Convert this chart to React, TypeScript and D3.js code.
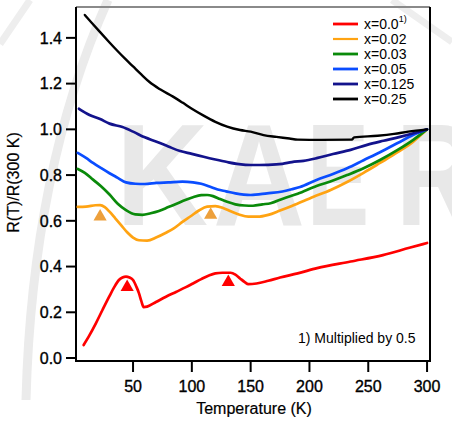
import React from "react";
import * as d3 from "d3";

type P = [number, number];

const seriesLabels = ["x=0.0", "x=0.02", "x=0.03", "x=0.05", "x=0.125", "x=0.25"];
const seriesColors = ["#ff0000", "#ffa312", "#0a8a0a", "#0a4dff", "#13138c", "#000000"];

const red: P[] = [[8,0.057],[13,0.1],[18.5,0.153],[24,0.21],[29.6,0.267],[34,0.31],[38,0.341],[41,0.352],[44,0.356],[47,0.352],[50,0.341],[53,0.31],[55,0.284],[57,0.25],[59,0.223],[62,0.225],[69.5,0.245],[78,0.268],[86.5,0.289],[95,0.31],[101,0.326],[108,0.345],[115,0.362],[120,0.37],[126,0.373],[133,0.373],[137,0.365],[141,0.348],[145,0.332],[148,0.323],[155,0.326],[165,0.338],[175,0.352],[190,0.37],[206.5,0.393],[235,0.422],[262.5,0.45],[285,0.482],[300,0.503]];
const orange: P[] = [[3,0.661],[10,0.662],[18,0.668],[22,0.669],[26,0.66],[30,0.64],[35,0.61],[40,0.58],[45,0.55],[50,0.527],[55,0.515],[62,0.513],[70,0.528],[78,0.548],[85,0.568],[92,0.595],[99,0.62],[106,0.645],[113,0.662],[120,0.664],[127,0.655],[133,0.642],[140,0.628],[148,0.618],[156,0.618],[165,0.626],[175,0.645],[185,0.665],[203,0.704],[218,0.735],[232,0.77],[246,0.81],[260,0.853],[275,0.9],[288,0.945],[300,1.0]];
const green: P[] = [[3,0.827],[9,0.81],[16,0.78],[23,0.75],[30,0.715],[37,0.675],[44,0.647],[52,0.628],[58,0.626],[65,0.633],[72,0.643],[80,0.66],[87,0.675],[95,0.692],[101,0.703],[108,0.712],[113,0.713],[118,0.708],[124,0.695],[130,0.683],[137,0.672],[145,0.667],[152,0.666],[160,0.672],[167,0.677],[178,0.698],[190,0.718],[206,0.752],[220,0.776],[232,0.8],[246,0.83],[260,0.866],[275,0.91],[288,0.953],[300,1.0]];
const blue: P[] = [[3,0.897],[10,0.875],[16,0.853],[23,0.83],[30,0.808],[37,0.788],[44,0.768],[52,0.762],[60,0.761],[70,0.766],[80,0.768],[92,0.771],[101,0.768],[108,0.762],[115,0.75],[122,0.737],[129,0.729],[137,0.72],[150,0.713],[164,0.72],[177,0.728],[185,0.738],[192,0.748],[206,0.779],[220,0.805],[232,0.83],[246,0.865],[260,0.9],[275,0.94],[288,0.975],[300,1.0]];
const navy: P[] = [[4,1.09],[13,1.063],[22,1.045],[30,1.025],[41,1.01],[50,0.99],[60,0.965],[70,0.946],[80,0.925],[90,0.905],[100,0.893],[110,0.88],[120,0.868],[130,0.857],[140,0.848],[150,0.844],[165,0.845],[177,0.849],[185,0.857],[195,0.862],[207,0.875],[220,0.892],[235,0.91],[249,0.932],[263,0.95],[277,0.967],[290,0.985],[300,1.0]];
const black: P[] = [[9,1.5],[15,1.465],[22,1.425],[30,1.38],[36,1.347],[43,1.31],[50,1.275],[57,1.24],[64,1.207],[73,1.175],[84,1.143],[92,1.117],[100,1.09],[110,1.06],[120,1.033],[130,1.012],[141,0.997],[150,0.99],[161,0.975],[172,0.967],[183,0.96],[190,0.955],[210,0.954],[236,0.955],[238,0.965],[258,0.972],[272,0.98],[284,0.99],[300,1.0]];
const allSeries = [red, orange, green, blue, navy, black];

const orangeMarkers: P[] = [[22, 0.618], [116, 0.626]];
const redMarkers: P[] = [[45, 0.31], [131, 0.332]];

const xTicks = [50, 100, 150, 200, 250, 300];
const yTicks = [0, 0.2, 0.4, 0.6, 0.8, 1.0, 1.2, 1.4];

const watermark = ["K", "A", "E", "R"];

export default function App() {
  const L = 76, R = 430, T = 7, B = 361;
  const x = d3.scaleLinear().domain([1.5, 302.5]).range([L, R]);
  const y = d3.scaleLinear().domain([-0.013, 1.535]).range([B, T]);
  const line = d3.line<P>().x(d => x(d[0])).y(d => y(d[1])).curve(d3.curveMonotoneX);
  const tri = d3.symbol().type(d3.symbolTriangle).size(75)();
  const font = "'Liberation Sans', Arial, sans-serif";
  const wmX = [116, 213, 307, 396];
  const wmW = [92, 92, 62, 80];
  return (
    <svg width={452} height={423} style={{ position: "absolute", left: 0, top: 0, background: "#fff" }} fontFamily={font}>
      <rect x={0} y={0} width={452} height={423} fill="#fff" />
      {/* watermark */}
      <g fill="#e8e8e8">
        {watermark.map((c, i) => (
          <text key={c} x={wmX[i]} y={225} fontSize={144} fontWeight="bold" textLength={wmW[i]} lengthAdjust="spacingAndGlyphs">{c}</text>
        ))}
      </g>
      <path d="M 108 0 Q 32 170 26 400" stroke="#ebebeb" strokeWidth={9} fill="none" />
      <path d="M 392 0 L 452 42" stroke="#eeeeee" strokeWidth={7} fill="none" />
      <path d="M 0 44 L 30 0" stroke="#eeeeee" strokeWidth={7} fill="none" />
      {/* frame */}
      <line x1={L} x2={R} y1={T} y2={T} stroke="#8a8a8a" strokeWidth={2} />
      <line x1={R} x2={R} y1={T} y2={B} stroke="#000" strokeWidth={2} />
      <line x1={L} x2={L} y1={T} y2={B + 1} stroke="#000" strokeWidth={2} />
      <line x1={L - 1} x2={R + 1} y1={B} y2={B} stroke="#000" strokeWidth={2} />
      {/* y axis ticks */}
      {yTicks.map(t => (
        <g key={t}>
          <line x1={L - 10} x2={L} y1={y(t)} y2={y(t)} stroke="#000" strokeWidth={2} />
          <text x={62} y={y(t)} dy="0.36em" textAnchor="end" fontSize={16} fill="#000" stroke="#000" strokeWidth={0.35}>{t.toFixed(1)}</text>
        </g>
      ))}
      {xTicks.map(t => (
        <g key={t}>
          <line x1={x(t)} x2={x(t)} y1={B} y2={B + 11} stroke="#000" strokeWidth={2} />
          <text x={x(t)} y={392} textAnchor="middle" fontSize={16} fill="#000" stroke="#000" strokeWidth={0.35}>{t}</text>
        </g>
      ))}
      <text x={254} y={414} textAnchor="middle" fontSize={16} fill="#000" stroke="#000" strokeWidth={0.2}>Temperature (K)</text>
      <text transform="translate(19,182.5) rotate(-90)" textAnchor="middle" fontSize={16} fill="#000" stroke="#000" strokeWidth={0.2}>R(T)/R(300 K)</text>
      {/* series */}
      <g fill="none" strokeLinejoin="round" strokeLinecap="round">
        {allSeries.map((s, i) => (
          <path key={i} d={line(s) || ""} stroke={seriesColors[i]} strokeWidth={i === 5 ? 2.4 : 2.7} />
        ))}
      </g>
      {orangeMarkers.map((m, i) => (
        <path key={"o" + i} d={tri || ""} transform={`translate(${x(m[0])},${y(m[1])})`} fill="#eda03c" />
      ))}
      {redMarkers.map((m, i) => (
        <path key={"r" + i} d={tri || ""} transform={`translate(${x(m[0])},${y(m[1])})`} fill="#ff0000" />
      ))}
      {/* legend */}
      <g>
        {seriesLabels.map((lab, i) => {
          const ly = 24 + i * 15;
          return (
            <g key={lab}>
              <line x1={333} x2={358} y1={ly} y2={ly} stroke={seriesColors[i]} strokeWidth={i === 1 ? 2.2 : 2.8} />
              <text x={364} y={ly + 5} fontSize={14} fill="#000">
                {lab}
                {i === 0 ? <tspan dy={-7} fontSize={9}>1)</tspan> : null}
              </text>
            </g>
          );
        })}
      </g>
      <text x={298} y={343} fontSize={14} fill="#000">1) Multiplied by 0.5</text>
    </svg>
  );
}
